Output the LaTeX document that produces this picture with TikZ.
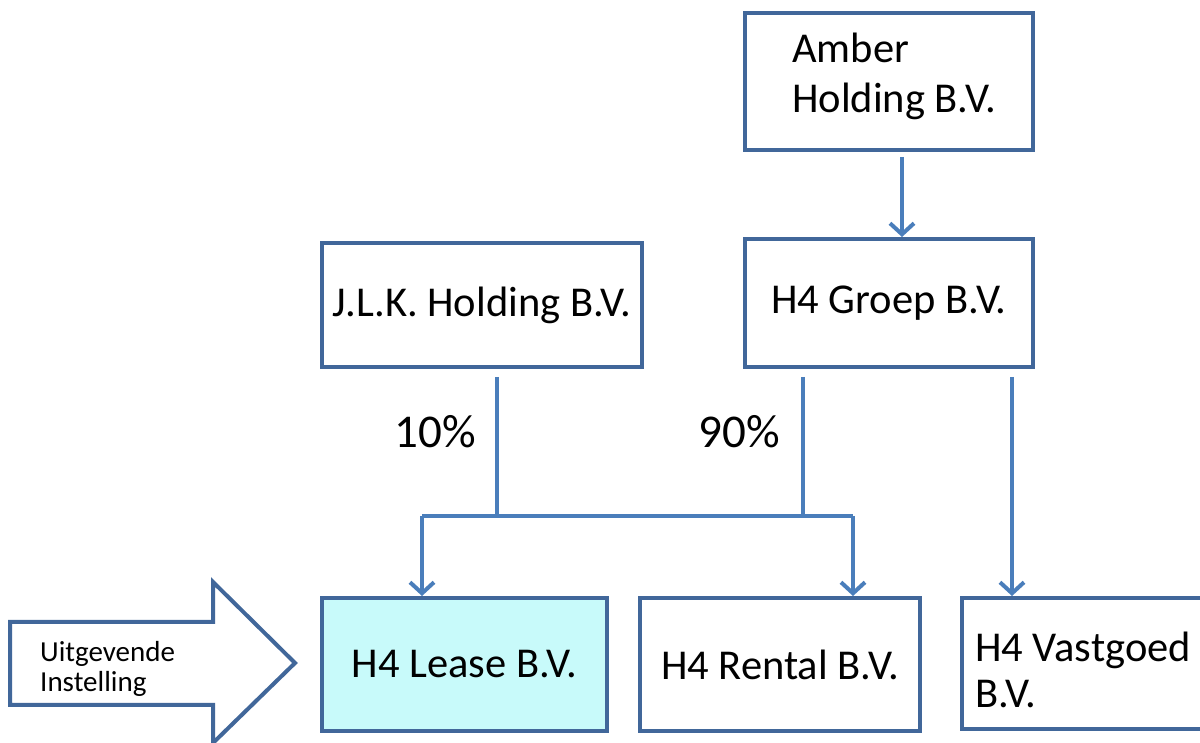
\documentclass[tikz,border=0pt]{standalone}
\usepackage{fontspec}
\setmainfont{Carlito}
\usetikzlibrary{arrows.meta,calc}
\definecolor{boxline}{HTML}{41679A}
\definecolor{conn}{HTML}{4A7EBB}
\definecolor{leasefill}{HTML}{C8FAFA}
\tikzset{
  box/.style={draw=boxline, line width=4pt, rectangle, inner sep=0pt, font=\fontsize{42.5}{50}\selectfont, align=center},
  txt/.style={inner sep=0pt, font=\fontsize{42.5}{50}\selectfont},
  conline/.style={draw=conn, line width=4pt},
  arr/.style={conline, -{Straight Barb[length=11pt,width=24pt]}},
}
\begin{document}
\begin{tikzpicture}[x=1pt,y=1pt]
\useasboundingbox (0,0) rectangle (1200,743);
% boxes
\node[box, minimum width=288pt, minimum height=137pt] (amber) at (889,661.5) {};
\node[txt, anchor=base west, align=left] (ambertxt) at (792,630) {Amber\\Holding B.V.};
\node[box, minimum width=320pt, minimum height=124pt] (jlk) at (482,438) {J.L.K. Holding B.V.};
\node[box, minimum width=288pt, minimum height=128pt] (groep) at (889,440) {H4 Groep B.V.};
\node[box, fill=leasefill, minimum width=285pt, minimum height=133pt] (lease) at (464.5,78.5) {H4 Lease B.V.};
\node[box, minimum width=280pt, minimum height=133pt] (rental) at (780,78.5) {H4 Rental B.V.};
\node[box, minimum width=253pt, minimum height=131pt] (vast) at (1088.5,79.5) {};
\node[txt, anchor=base west, align=left, font=\fontsize{42.5}{46}\selectfont] (vasttxt) at (975,35) {H4 Vastgoed\\B.V.};
% percentages
\node[txt, font=\fontsize{47}{50}\selectfont] (p10) at (435,311) {10\%};
\node[txt, font=\fontsize{47}{50}\selectfont] (p90) at (739,311) {90\%};
% junction
\coordinate (jl) at (422,227);
\coordinate (jr) at (853,227);
\coordinate (jj) at (497,227);
\coordinate (jg) at (803,227);
% connectors
\draw[arr, shorten <=5pt] ([xshift=13pt]amber.south) -- ([xshift=13pt]groep.north);
\draw[conline, shorten <=8pt] ([xshift=15pt]jlk.south) -- (jj);
\draw[conline, shorten <=8pt] ([xshift=-86pt]groep.south) -- (jg);
\draw[conline] (jl) -- (jr);
\draw[arr] (jl) -- (jl |- lease.north);
\draw[arr] (jr) -- (jr |- rental.north);
\draw[arr, shorten <=8pt] ([xshift=123pt]groep.south) -- ([xshift=123pt]groep.south |- vast.north);
% big arrow
\draw[draw=boxline, line width=4pt, line join=miter, fill=white]
  (10,121) -- (213,121) -- (213,161) -- (295,80) -- (213,0) -- (213,38) -- (10,38) -- cycle;
\node[inner sep=0pt, anchor=base west, align=left, font=\fontsize{29}{30}\selectfont] (uit) at (40,51) {Uitgevende\\Instelling};
\end{tikzpicture}
\end{document}
